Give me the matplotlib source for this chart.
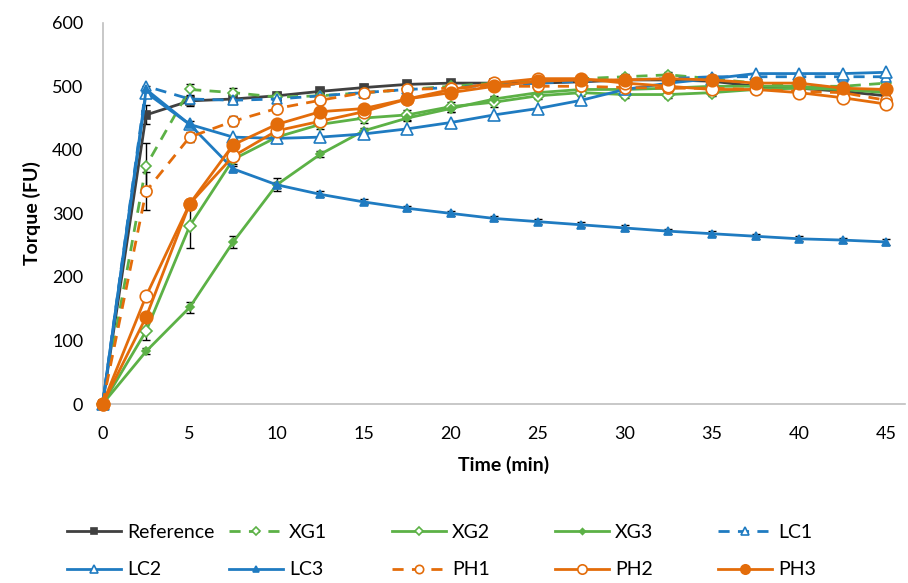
import matplotlib.pyplot as plt
import numpy as np

plt.rcParams['font.family'] = ['Lato', 'DejaVu Sans']

time = [0, 2.5, 5, 7.5, 10, 12.5, 15, 17.5, 20, 22.5, 25, 27.5, 30, 32.5, 35, 37.5, 40, 42.5, 45]

reference = [0, 455, 477, 480, 485, 492, 498, 503, 505, 505, 505, 507, 510, 510, 508, 500, 497, 492, 485]
xg1 = [0, 375, 495, 490, 483, 485, 490, 495, 500, 505, 507, 512, 515, 518, 512, 505, 500, 500, 505]
xg2 = [0, 115, 280, 385, 420, 440, 450, 455, 468, 475, 485, 490, 487, 487, 490, 495, 497, 495, 495]
xg3 = [0, 83, 152, 255, 345, 393, 430, 450, 465, 480, 490, 495, 495, 497, 500, 500, 500, 495, 490]
lc1 = [0, 500, 480, 478, 480, 485, 490, 495, 498, 502, 505, 508, 510, 512, 515, 515, 515, 515, 515]
lc2 = [0, 490, 440, 420, 418, 420, 425, 433, 443, 455, 465, 478, 495, 505, 512, 520, 520, 520, 522]
lc3 = [0, 495, 440, 370, 345, 330, 318, 308, 300, 292, 287, 282, 277, 272, 268, 264, 260, 258, 255]
ph1 = [0, 335, 420, 445, 465, 478, 490, 495, 497, 500, 500, 500, 498, 497, 497, 495, 492, 490, 478]
ph2 = [0, 170, 315, 390, 430, 445, 460, 480, 495, 505, 512, 512, 505, 500, 495, 495, 490, 482, 472]
ph3 = [0, 137, 315, 408, 440, 460, 465, 480, 490, 500, 508, 510, 510, 512, 510, 505, 505, 497, 495]

# rough error bars (only some are visible in the figure)
err_ref = [0, 15, 8, 8, 6, 6, 5, 5, 4, 5, 8, 5, 5, 5, 5, 10, 5, 5, 5]
err_xg1 = [0, 35, 8, 8, 6, 5, 5, 5, 5, 5, 5, 5, 5, 5, 5, 5, 5, 5, 5]
err_xg2 = [0, 15, 35, 8, 10, 8, 8, 8, 8, 8, 5, 5, 5, 5, 5, 5, 5, 5, 5]
err_xg3 = [0, 5, 8, 10, 5, 5, 5, 5, 5, 5, 5, 5, 5, 5, 5, 5, 5, 5, 5]
err_lc3 = [0, 5, 5, 5, 10, 5, 4, 4, 4, 4, 4, 4, 4, 4, 4, 4, 4, 4, 4]
err_ph1 = [0, 30, 8, 8, 6, 5, 5, 5, 5, 5, 5, 5, 5, 5, 5, 5, 5, 5, 5]

grey = '#404040'
green = '#5cb146'
blue = '#1f7bc1'
orange = '#e36c0a'

fig = plt.figure(figsize=(9.08, 5.83), dpi=100)
ax = fig.add_axes([0.113, 0.307, 0.884, 0.654])

def draw(y, err, color, ls, marker, mfc, ms, label):
    if err is not None:
        ax.errorbar(time, y, yerr=err, fmt='none', ecolor='black', elinewidth=1,
                    capsize=3, capthick=1, zorder=2)
    return ax.plot(time, y, color=color, ls=ls, lw=2, marker=marker, mfc=mfc,
                   mec=color, ms=ms, mew=1.2, label=label, clip_on=False, zorder=3)[0]

h_ref = draw(reference, err_ref, grey, '-', 's', grey, 6, 'Reference')
h_xg1 = draw(xg1, err_xg1, green, (0, (4, 3)), 'D', 'white', 5, 'XG1')
h_xg2 = draw(xg2, err_xg2, green, '-', 'D', 'white', 6, 'XG2')
h_xg3 = draw(xg3, err_xg3, green, '-', 'D', green, 4, 'XG3')
h_lc1 = draw(lc1, None, blue, (0, (4, 3)), '^', 'white', 7, 'LC1')
h_lc2 = draw(lc2, None, blue, '-', '^', 'white', 8, 'LC2')
h_lc3 = draw(lc3, err_lc3, blue, '-', '^', blue, 6, 'LC3')
h_ph1 = draw(ph1, err_ph1, orange, (0, (4, 3)), 'o', 'white', 8, 'PH1')
h_ph2 = draw(ph2, None, orange, '-', 'o', 'white', 9, 'PH2')
h_ph3 = draw(ph3, None, orange, '-', 'o', orange, 9, 'PH3')

ax.set_xlim(0, 46.1)
ax.set_ylim(0, 600)
ax.set_xticks(np.arange(0, 50, 5))
ax.set_yticks(np.arange(0, 700, 100))
ax.tick_params(length=0, labelsize=13)
ax.tick_params(axis='x', pad=16)
ax.tick_params(axis='y', pad=14)
for s in ['top', 'right']:
    ax.spines[s].set_visible(False)
for s in ['left', 'bottom']:
    ax.spines[s].set_color('#bfbfbf')
    ax.spines[s].set_linewidth(1.2)
ax.set_xlabel('Time (min)', fontsize=14, fontweight='bold', labelpad=10)
ax.set_ylabel('Torque (FU)', fontsize=14, fontweight='bold', labelpad=8)

# Excel-style legend: equal-width columns, two rows
columns = [[h_ref, h_lc2], [h_xg1, h_lc3], [h_xg2, h_ph1], [h_xg3, h_ph2], [h_lc1, h_ph3]]
col_x = [67, 229, 392, 555, 718]
for hs, x in zip(columns, col_x):
    fig.legend(handles=hs, labels=[h.get_label() for h in hs], loc='upper left',
               bbox_to_anchor=(x / 908, 1 - 524 / 583), frameon=False,
               fontsize=14, handlelength=2.8, handletextpad=0.3, markerscale=0.75,
               labelspacing=1.05, borderpad=0, borderaxespad=0)

fig.savefig('out.png')
